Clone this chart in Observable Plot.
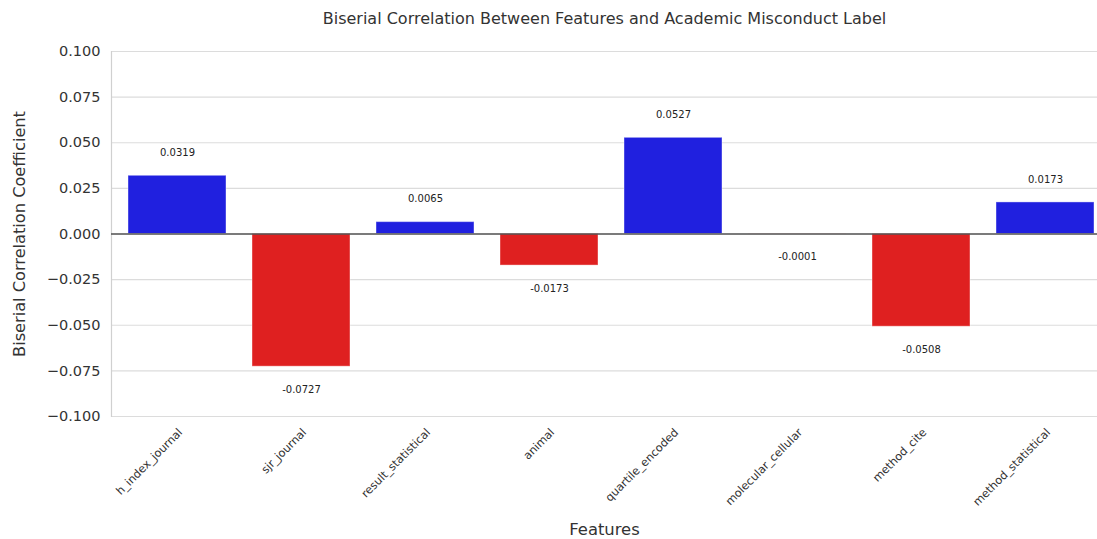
<!DOCTYPE html>
<html>
<head>
<meta charset="utf-8">
<script src="https://cdn.jsdelivr.net/npm/d3@7"></script>
<script src="https://cdn.jsdelivr.net/npm/@observablehq/plot@0.6"></script>
<style>
  html, body { margin: 0; padding: 0; background: #fff; }
  svg { display: block; }
</style>
</head>
<body>
<div id="chart"></div>
<script>
const features = ["h_index_journal", "sjr_journal", "result_statistical", "animal", "quartile_encoded", "molecular_cellular", "method_cite", "method_statistical"];
const coefficients = [0.0319, -0.0727, 0.0065, -0.0173, 0.0527, -0.0001, -0.0508, 0.0173];
const yTicks = [-0.1, -0.075, -0.05, -0.025, 0, 0.025, 0.05, 0.075, 0.1];
const titleText = "Biserial Correlation Between Features and Academic Misconduct Label";
const xLabel = "Features";
const yLabel = "Biserial Correlation Coefficient";

const data = features.map((f, i) => ({feature: f, value: coefficients[i]}));
const font = "DejaVu Sans, sans-serif";
const fmt = d3.format(".3f");

const chart = Plot.plot({
  width: 1097,
  height: 539,
  marginLeft: 111,
  marginRight: 0,
  marginTop: 51,
  marginBottom: 123,
  style: {fontFamily: font, background: "#fff", overflow: "visible"},
  x: {domain: features, range: [112.5, 1109], paddingInner: 0.21, paddingOuter: 0.1, label: null},
  y: {domain: [-0.1, 0.1], label: null},
  marks: [
    Plot.ruleY(yTicks, {y: d => d, stroke: "#dcdcdc", strokeWidth: 1.2}),
    Plot.frame({anchor: "left", stroke: "#d0d0d0", strokeWidth: 1.2}),
    Plot.barY(data, {x: "feature", y: "value", fill: d => d.value >= 0 ? "#2020df" : "#df2020", stroke: "#fff", strokeOpacity: 0.4, strokeWidth: 1}),
    Plot.ruleY([0], {stroke: "#555", strokeWidth: 1.3}),
    Plot.text(data.filter(d => d.value >= 0), {x: "feature", y: "value", text: d => d.value.toFixed(4), dy: -23, fontSize: 10, fill: "#222"}),
    Plot.text(data.filter(d => d.value < 0), {x: "feature", y: "value", text: d => d.value.toFixed(4), dy: 23, fontSize: 10, fill: "#222"}),
    Plot.axisY({ticks: yTicks, tickFormat: fmt, tickSize: 0, tickPadding: 11, fontSize: 14.5, fill: "#333", label: null}),
    Plot.axisX({tickSize: 0, tickRotate: -45, tickPadding: 14, dx: 3, fontSize: 11.3, fill: "#333", label: null}),
    Plot.text([titleText], {frameAnchor: "top", dy: -39, fontSize: 16, fill: "#333"}),
    Plot.text([xLabel], {frameAnchor: "bottom", dy: 118, fontSize: 16.4, fill: "#333"}),
    Plot.text([yLabel], {frameAnchor: "left", textAnchor: "middle", dx: -92, rotate: -90, fontSize: 16.2, fill: "#333"})
  ]
});
document.getElementById("chart").appendChild(chart);
</script>
</body>
</html>
